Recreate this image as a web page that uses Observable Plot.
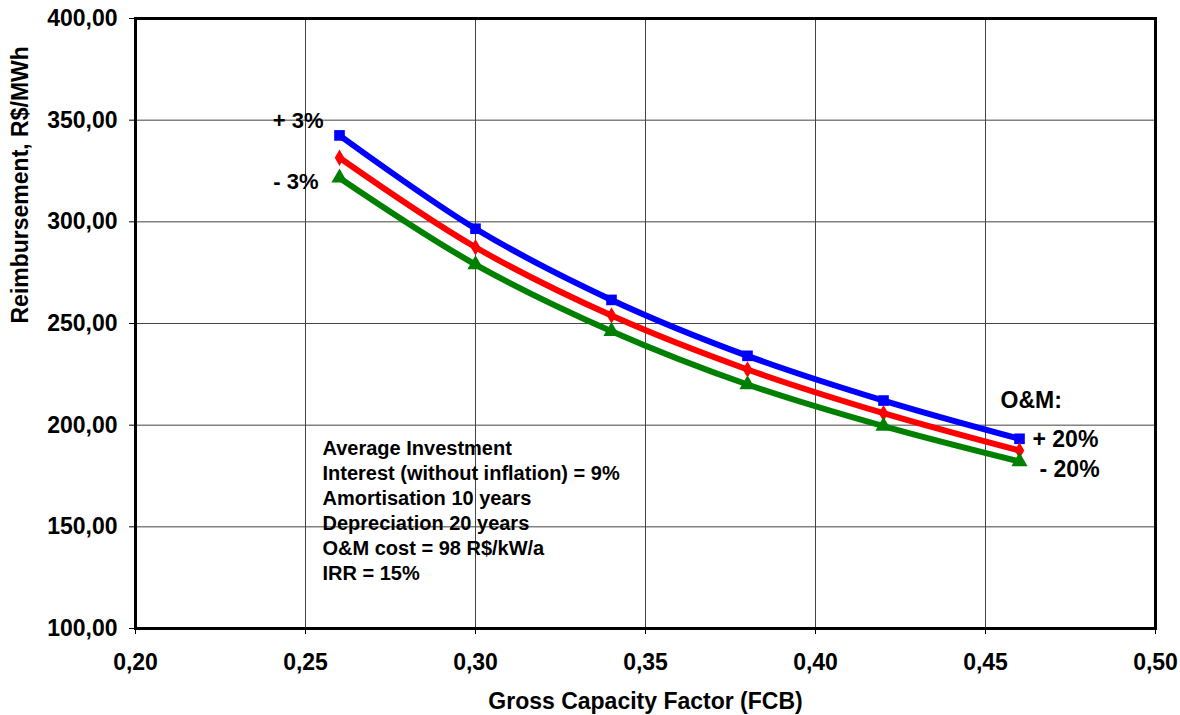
<!DOCTYPE html>
<html>
<head>
<meta charset="utf-8">
<script src="https://cdn.jsdelivr.net/npm/d3@7"></script>
<script src="https://cdn.jsdelivr.net/npm/@observablehq/plot@0.6"></script>
<style>
  html, body { margin: 0; padding: 0; background: #fff; }
  #chart { width: 1180px; height: 715px; }
</style>
</head>
<body>
<div id="chart"></div>
<script>
// ---- data ----
const xValues = [0.26, 0.30, 0.34, 0.38, 0.42, 0.46];
const plusValues = [342.5, 296.6, 261.6, 234.1, 212.1, 193.3];   // +3% / +20% O&M
const baseValues = [331.5, 287.5, 253.9, 227.4, 205.9, 187.5];   // base
const minusValues = [321.6, 279.0, 246.2, 220.0, 199.5, 182.1];  // -3% / -20% O&M
const seriesNames = ["plus", "base", "minus"];
const seriesColors = ["#0000ff", "#ff0000", "#008000"];
const seriesSymbols = ["square", "diamond", "triangle"];
const xTicks = [0.20, 0.25, 0.30, 0.35, 0.40, 0.45, 0.50];
const yTicks = [100, 150, 200, 250, 300, 350, 400];
const xLabel = "Gross Capacity Factor (FCB)";
const yLabel = "Reimbursement, R$/MWh";
const noteLines = [
  "Average Investment",
  "Interest (without inflation) = 9%",
  "Amortisation 10 years",
  "Depreciation 20 years",
  "O&M cost = 98 R$/kW/a",
  "IRR = 15%"
];

// ---- table ----
const seriesValues = [plusValues, baseValues, minusValues];
const rows = [];
seriesNames.forEach((s, i) => xValues.forEach((x, j) => rows.push({series: s, x, y: seriesValues[i][j]})));

const fmt = d => d3.format(".2f")(d).replace(".", ",");
const FONT = "'Liberation Sans', Arial, sans-serif";

const marks = [
  Plot.ruleY(yTicks, {stroke: "#444", strokeWidth: 1}),
  Plot.ruleX(xTicks, {stroke: "#444", strokeWidth: 1}),
  // labels with white boxes
  Plot.text([{x: xValues[0], y: plusValues[0], t: "+ 3%"}], {
    x: "x", y: "y", text: "t", textAnchor: "end", dx: -16, dy: -14, fontSize: 22, ariaLabel: "boxed"
  }),
  Plot.text([{x: xValues[0], y: minusValues[0], t: "- 3%"}], {
    x: "x", y: "y", text: "t", textAnchor: "end", dx: -21, dy: 4, fontSize: 22, ariaLabel: "boxed"
  }),
  Plot.text([noteLines.join("\n")], {
    text: d => d, frameAnchor: "top-left", textAnchor: "start", lineAnchor: "top",
    dx: 187, dy: 419, lineHeight: 1.25, fontSize: 20, ariaLabel: "boxed"
  }),
  Plot.text([{x: xValues[5], y: plusValues[5], t: "O&M:"}], {
    x: "x", y: "y", text: "t", textAnchor: "start", dx: -19, dy: -38, fontSize: 23, ariaLabel: "boxed"
  }),
  Plot.text([{x: xValues[5], y: plusValues[5], t: "+ 20%"}], {
    x: "x", y: "y", text: "t", textAnchor: "start", dx: 13, dy: 1, fontSize: 23, ariaLabel: "boxed"
  }),
  Plot.text([{x: xValues[5], y: minusValues[5], t: "- 20%"}], {
    x: "x", y: "y", text: "t", textAnchor: "start", dx: 20, dy: 8, fontSize: 23, ariaLabel: "boxed"
  })
];
seriesNames.forEach((s, i) => {
  const data = rows.filter(r => r.series === s);
  marks.push(Plot.line(data, {x: "x", y: "y", stroke: seriesColors[i], strokeWidth: 6, curve: "catmull-rom"}));
  marks.push(Plot.dot(data, {x: "x", y: "y", fill: seriesColors[i], stroke: "none",
    symbol: () => seriesSymbols[i], r: i === 1 ? 5 : 6}));
});
marks.push(Plot.frame({stroke: "black", strokeWidth: 3}));
marks.push(Plot.text([xLabel], {text: d => d, frameAnchor: "bottom", dy: 80, fontSize: 23}));
marks.push(Plot.text([yLabel], {text: d => d, frameAnchor: "left", dx: -115, rotate: -90, fontSize: 23}));

const chart = Plot.plot({
  width: 1180,
  height: 715,
  marginLeft: 135,
  marginRight: 25,
  marginTop: 18,
  marginBottom: 87,
  style: {fontFamily: FONT, fontWeight: "bold", fontSize: "23px", color: "black", background: "white", overflow: "visible"},
  x: {domain: [0.2, 0.5], ticks: xTicks, tickFormat: fmt, tickSize: 6, tickPadding: 19, label: null},
  y: {domain: [100, 400], ticks: yTicks, tickFormat: fmt, tickSize: 6, tickPadding: 12, label: null},
  marks
});
document.getElementById("chart").append(chart);

// white boxes behind annotation texts (sized from their rendered text)
const svgns = "http://www.w3.org/2000/svg";
chart.querySelectorAll('g[aria-label="boxed"] text').forEach(t => {
  const b = t.getBBox();
  const r = document.createElementNS(svgns, "rect");
  const padX = 6, padY = 4;
  r.setAttribute("x", b.x - padX);
  r.setAttribute("y", b.y - padY);
  r.setAttribute("width", b.width + 2 * padX);
  r.setAttribute("height", b.height + 2 * padY);
  r.setAttribute("fill", "white");
  r.setAttribute("stroke", "none");
  if (t.getAttribute("transform")) r.setAttribute("transform", t.getAttribute("transform"));
  t.parentNode.insertBefore(r, t);
});
</script>
</body>
</html>
